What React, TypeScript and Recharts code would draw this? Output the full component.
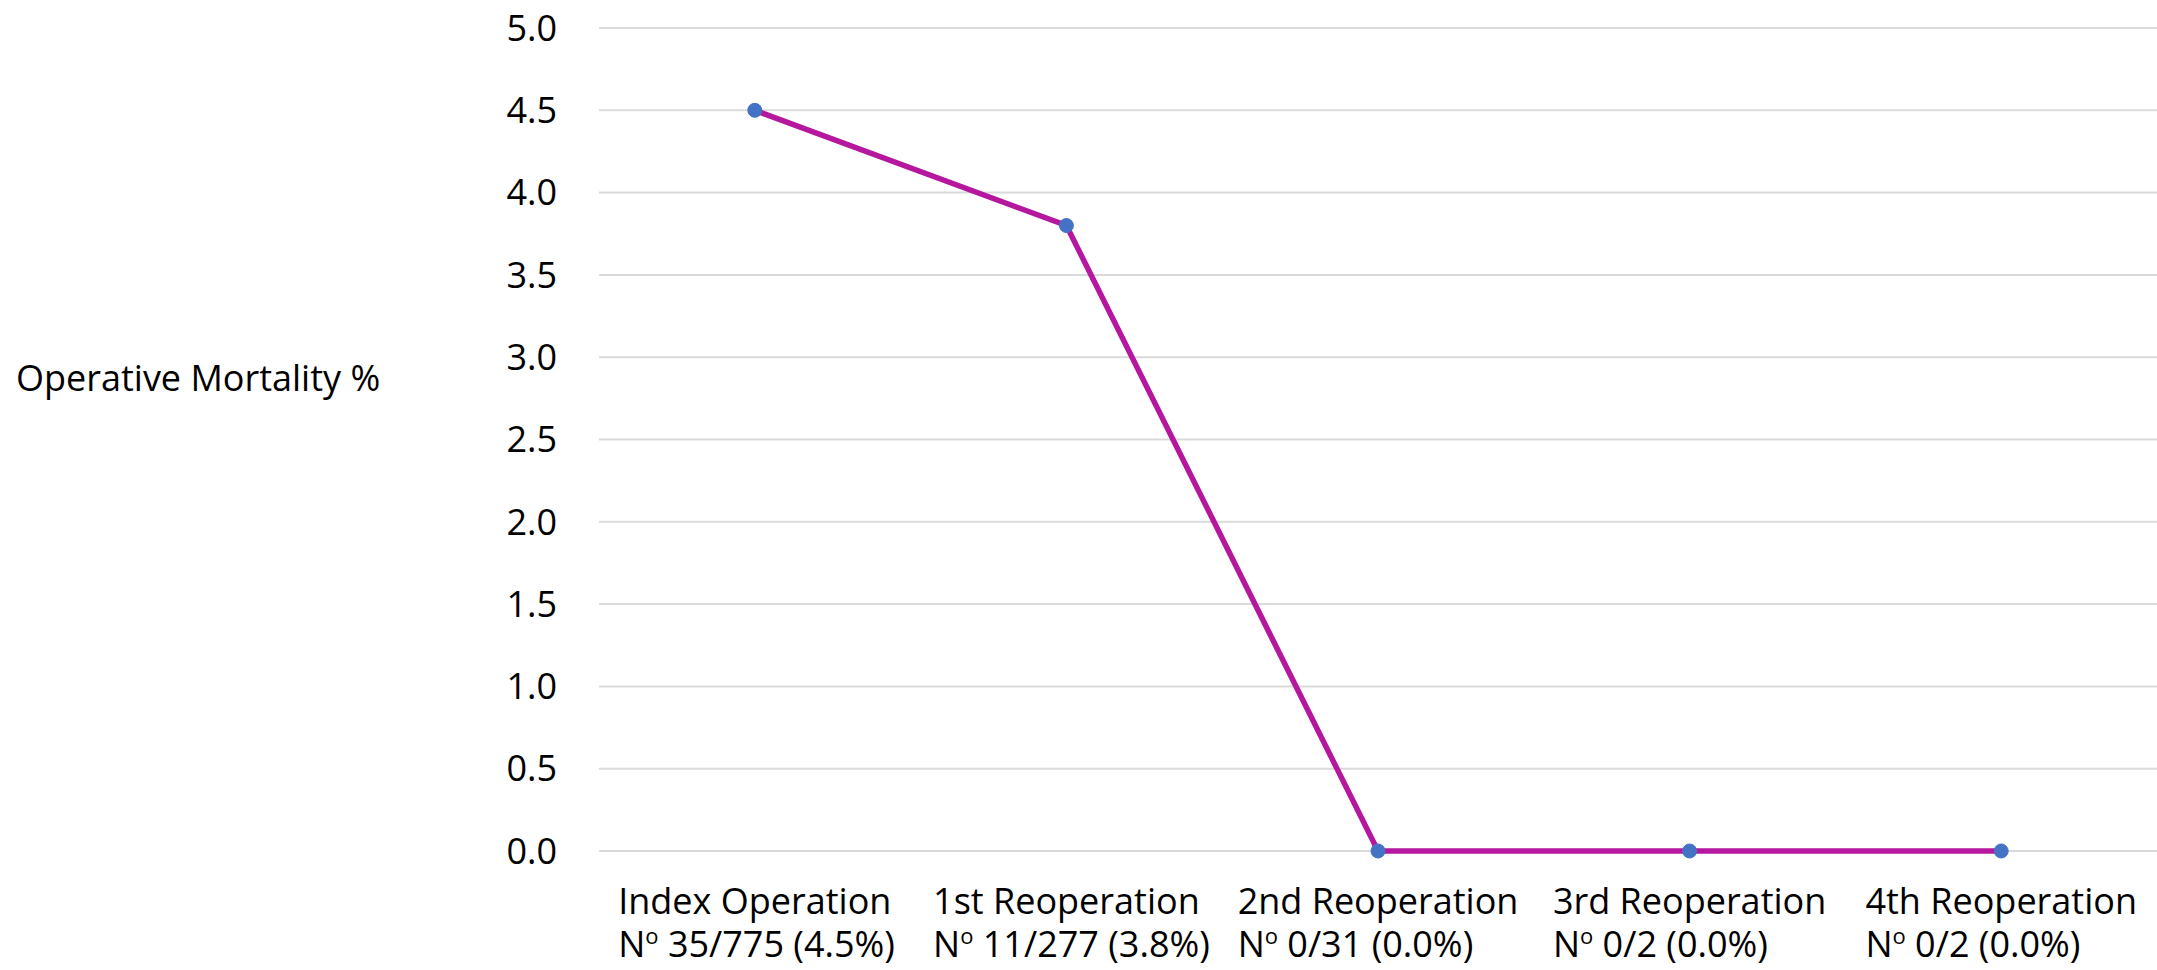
import React from 'react'
import { LineChart, Line, XAxis, YAxis, CartesianGrid } from 'recharts'

const categories = ['Index Operation', '1st Reoperation', '2nd Reoperation', '3rd Reoperation', '4th Reoperation']
const deaths = [35, 11, 0, 0, 0]
const totals = [775, 277, 31, 2, 2]
const mortality = [4.5, 3.8, 0.0, 0.0, 0.0]
const yTicks = [0, 0.5, 1, 1.5, 2, 2.5, 3, 3.5, 4, 4.5, 5]

const FONT = "'Open Sans', 'Noto Sans', sans-serif"
const FS = 36

const data = categories.map((name, i) => ({
  name,
  sub: `${deaths[i]}/${totals[i]} (${mortality[i].toFixed(1)}%)`,
  value: mortality[i],
}))

let ctx: CanvasRenderingContext2D | null = null
function textWidth(s: string) {
  if (!ctx) ctx = document.createElement('canvas').getContext('2d')
  if (!ctx) return s.length * FS * 0.5
  ctx.font = `${FS}px 'Open Sans'`
  return ctx.measureText(s).width
}

function XTick(props: any) {
  const { x, y, payload, index } = props
  const row = data[index] ?? data.find(d => d.name === payload.value)
  const left = x - textWidth(payload.value) / 2
  return (
    <g>
      <text x={x} y={y + 63} textAnchor="middle" fontSize={FS} fontFamily={FONT} fill="#000">
        {payload.value}
      </text>
      <text x={left} y={y + 106} textAnchor="start" fontSize={FS} fontFamily={FONT} fill="#000">
        N<tspan fontSize={22} dy={-13}>o</tspan>
        <tspan dy={13}>{' ' + (row ? row.sub : '')}</tspan>
      </text>
    </g>
  )
}

export default function App() {
  return (
    <div style={{ position: 'absolute', left: 0, top: 0, width: 2157, height: 970, background: '#fff' }}>
      <LineChart width={2157} height={970} data={data} margin={{ top: 28, right: 0, left: 0, bottom: 0 }}>
        <CartesianGrid vertical={false} stroke="#D9D9D9" strokeWidth={2} />
        <XAxis
          dataKey="name"
          scale="band"
          axisLine={false}
          tickLine={false}
          tickSize={0}
          tickMargin={0}
          interval={0}
          height={119}
          tick={<XTick />}
        />
        <YAxis
          domain={[0, 5]}
          ticks={yTicks}
          interval={0}
          width={599}
          axisLine={false}
          tickLine={false}
          tickSize={0}
          tickMargin={42}
          tickFormatter={(v: number) => v.toFixed(1)}
          tick={{ fontSize: FS, fontFamily: FONT, fill: '#000' }}
          label={{
            content: () => (
              <text x={16} y={377} dominantBaseline="central" fontSize={FS} fontFamily={FONT} fill="#000">
                Operative Mortality %
              </text>
            ),
          }}
        />
        <Line
          type="linear"
          dataKey="value"
          stroke="#B5179E"
          strokeWidth={5.5}
          dot={{ r: 7, fill: '#4472C4', stroke: '#4472C4', strokeWidth: 1 }}
          activeDot={false}
          isAnimationActive={false}
        />
      </LineChart>
    </div>
  )
}
